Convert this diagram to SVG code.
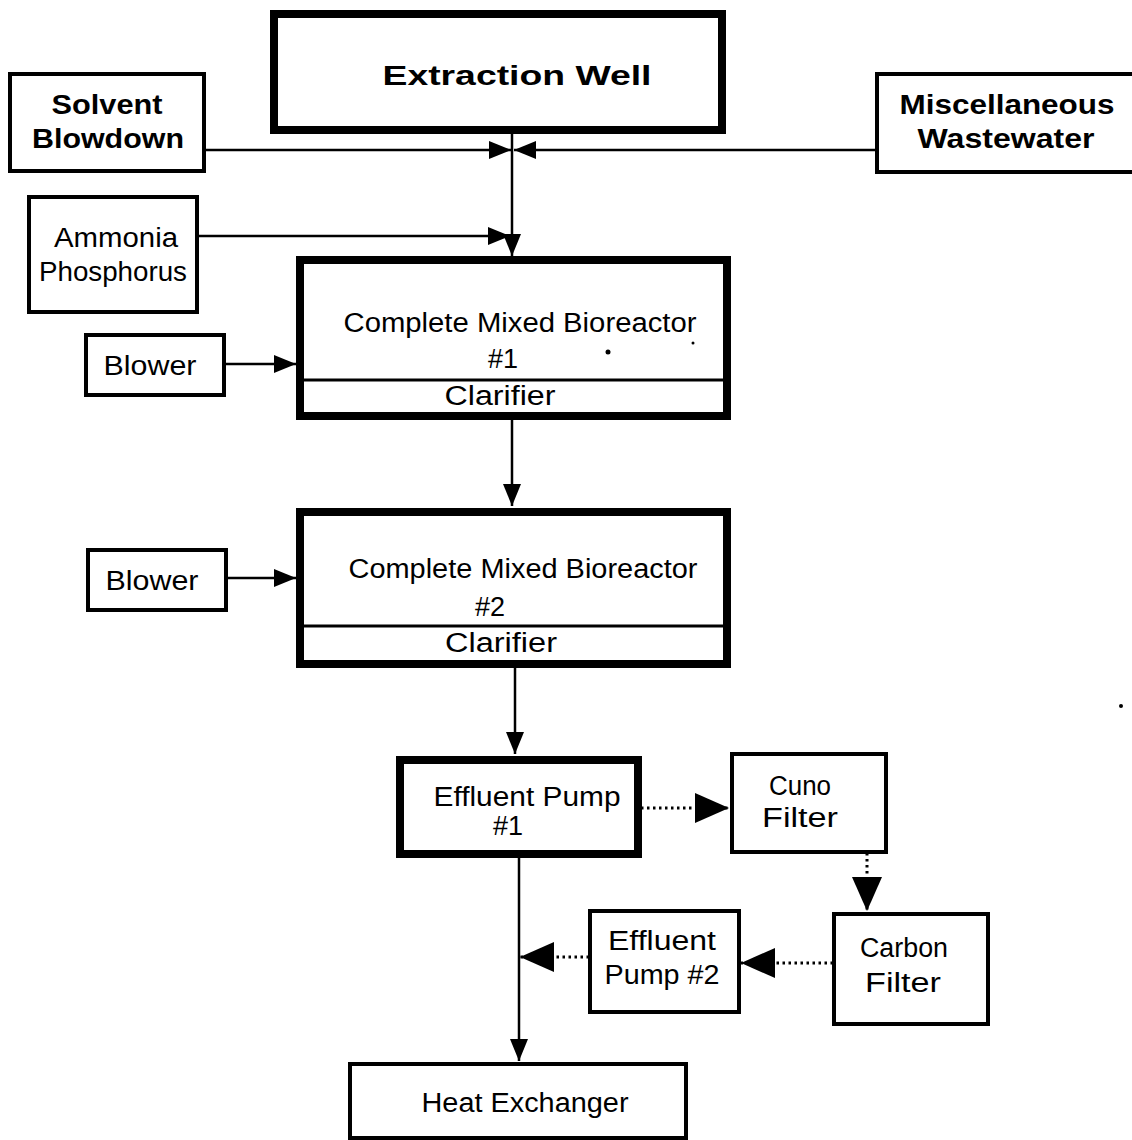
<svg xmlns="http://www.w3.org/2000/svg" width="1132" height="1140" viewBox="0 0 1132 1140">
<style>
  .bg { fill: #ffffff; }
  .thick { fill: #fff; stroke: #000; stroke-width: 8; }
  .thin { fill: #fff; stroke: #000; stroke-width: 4; }
  .div { stroke: #000; stroke-width: 3; }
  .t { font-family: "Liberation Sans", "DejaVu Sans", sans-serif; font-size: 27px; fill: #000; text-anchor: middle; }
  .b { font-weight: bold; }
  .c { stroke: #000; stroke-width: 2.5; fill: none; }
  .d { stroke: #000; stroke-width: 3; fill: none; stroke-dasharray: 2.5 3.5; }
</style>
<defs>
  <marker id="arr" markerUnits="userSpaceOnUse" markerWidth="22" markerHeight="18" refX="22" refY="9" orient="auto">
    <path d="M0,0 L22,9 L0,18 z" fill="#000"/>
  </marker>
  <marker id="big" markerUnits="userSpaceOnUse" markerWidth="34" markerHeight="30" refX="34" refY="15" orient="auto">
    <path d="M0,0 L34,15 L0,30 z" fill="#000"/>
  </marker>
</defs>
<rect class="bg" x="0" y="0" width="1132" height="1140"/>

<g id="connectors">
  <line class="c" x1="204" y1="150" x2="511" y2="150" marker-end="url(#arr)"/>
  <line class="c" x1="877" y1="150" x2="514" y2="150" marker-end="url(#arr)"/>
  <line class="c" x1="512" y1="132" x2="512" y2="256" marker-end="url(#arr)"/>
  <line class="c" x1="188" y1="236" x2="510" y2="236" marker-end="url(#arr)"/>
  <line class="c" x1="224" y1="364" x2="296" y2="364" marker-end="url(#arr)"/>
  <line class="c" x1="512" y1="420" x2="512" y2="506" marker-end="url(#arr)"/>
  <line class="c" x1="226" y1="578" x2="296" y2="578" marker-end="url(#arr)"/>
  <line class="c" x1="515" y1="668" x2="515" y2="754" marker-end="url(#arr)"/>
  <line class="d" x1="641" y1="808" x2="729" y2="808" marker-end="url(#big)"/>
  <line class="d" x1="867" y1="853" x2="867" y2="911" marker-end="url(#big)"/>
  <line class="d" x1="833" y1="963" x2="741" y2="963" marker-end="url(#big)"/>
  <line class="d" x1="589" y1="957" x2="520" y2="957" marker-end="url(#big)"/>
  <line class="c" x1="519" y1="857" x2="519" y2="1061" marker-end="url(#arr)"/>
</g>

<g id="extraction-well">
  <rect class="thick" x="274" y="14" width="448" height="116"/>
  <text class="t b" x="517" y="85" font-size="36" textLength="269" lengthAdjust="spacingAndGlyphs">Extraction Well</text>
</g>

<g id="solvent-blowdown">
  <rect class="thin" x="10" y="74" width="194" height="97"/>
  <text class="t b" x="107" y="114" textLength="111" lengthAdjust="spacingAndGlyphs">Solvent</text>
  <text class="t b" x="108" y="148" textLength="152" lengthAdjust="spacingAndGlyphs">Blowdown</text>
</g>

<g id="misc-wastewater">
  <rect class="thin" x="877" y="74" width="260" height="98"/>
  <text class="t b" x="1007" y="114" textLength="215" lengthAdjust="spacingAndGlyphs">Miscellaneous</text>
  <text class="t b" x="1006" y="148" textLength="177" lengthAdjust="spacingAndGlyphs">Wastewater</text>
</g>

<g id="ammonia-phosphorus">
  <rect class="thin" x="29" y="197" width="168" height="115"/>
  <text class="t" x="116" y="247" textLength="124" lengthAdjust="spacingAndGlyphs">Ammonia</text>
  <text class="t" x="113" y="281" textLength="148" lengthAdjust="spacingAndGlyphs">Phosphorus</text>
</g>

<g id="bioreactor-1">
  <rect class="thick" x="300" y="260" width="427" height="156"/>
  <line class="div" x1="300" y1="380" x2="727" y2="380"/>
  <text class="t" x="520" y="332" textLength="353" lengthAdjust="spacingAndGlyphs">Complete Mixed Bioreactor</text>
  <text class="t" x="503" y="368">#1</text>
  <text class="t" x="500" y="405" textLength="111" lengthAdjust="spacingAndGlyphs">Clarifier</text>
  <circle cx="608" cy="352" r="2.5" fill="#000"/>
  <circle cx="693" cy="343" r="1.5" fill="#000"/>
</g>

<g id="blower-1">
  <rect class="thin" x="86" y="335" width="138" height="60"/>
  <text class="t" x="150" y="375" textLength="93" lengthAdjust="spacingAndGlyphs">Blower</text>
</g>

<g id="bioreactor-2">
  <rect class="thick" x="300" y="512" width="427" height="152"/>
  <line class="div" x1="300" y1="626" x2="727" y2="626"/>
  <text class="t" x="523" y="578" textLength="349" lengthAdjust="spacingAndGlyphs">Complete Mixed Bioreactor</text>
  <text class="t" x="490" y="616">#2</text>
  <text class="t" x="501" y="652" textLength="112" lengthAdjust="spacingAndGlyphs">Clarifier</text>
</g>

<g id="blower-2">
  <rect class="thin" x="88" y="550" width="138" height="60"/>
  <text class="t" x="152" y="590" textLength="93" lengthAdjust="spacingAndGlyphs">Blower</text>
</g>

<g id="effluent-pump-1">
  <rect class="thick" x="400" y="760" width="238" height="94"/>
  <text class="t" x="527" y="806" textLength="187" lengthAdjust="spacingAndGlyphs">Effluent Pump</text>
  <text class="t" x="508" y="835">#1</text>
</g>

<g id="cuno-filter">
  <rect class="thin" x="732" y="754" width="154" height="98"/>
  <text class="t" x="800" y="795" textLength="62" lengthAdjust="spacingAndGlyphs">Cuno</text>
  <text class="t" x="800" y="827" textLength="76" lengthAdjust="spacingAndGlyphs">Filter</text>
</g>

<g id="carbon-filter">
  <rect class="thin" x="834" y="914" width="154" height="110"/>
  <text class="t" x="904" y="957" textLength="88" lengthAdjust="spacingAndGlyphs">Carbon</text>
  <text class="t" x="903" y="992" textLength="76" lengthAdjust="spacingAndGlyphs">Filter</text>
</g>

<g id="effluent-pump-2">
  <rect class="thin" x="590" y="911" width="149" height="101"/>
  <text class="t" x="662" y="950" textLength="108" lengthAdjust="spacingAndGlyphs">Effluent</text>
  <text class="t" x="662" y="984" textLength="115" lengthAdjust="spacingAndGlyphs">Pump #2</text>
</g>

<g id="heat-exchanger">
  <rect class="thin" x="350" y="1064" width="336" height="74"/>
  <text class="t" x="525" y="1112" textLength="207" lengthAdjust="spacingAndGlyphs">Heat  Exchanger</text>
</g>

<circle cx="1121" cy="706" r="2" fill="#000"/>
</svg>
